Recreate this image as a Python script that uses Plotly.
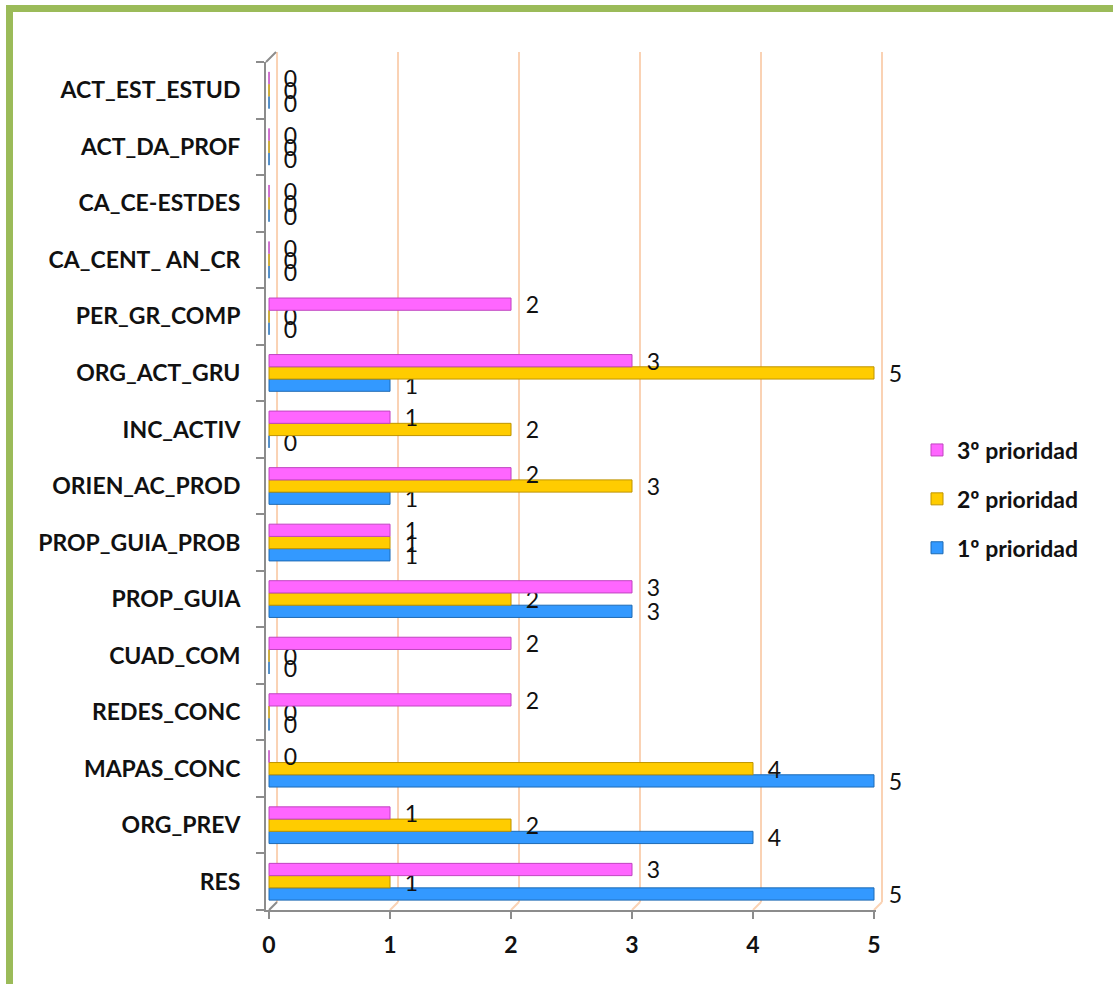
import plotly.graph_objects as go

# Activities, listed from the bottom of the chart to the top
categories = [
    "RES", "ORG_PREV", "MAPAS_CONC", "REDES_CONC", "CUAD_COM", "PROP_GUIA",
    "PROP_GUIA_PROB", "ORIEN_AC_PROD", "INC_ACTIV", "ORG_ACT_GRU",
    "PER_GR_COMP", "CA_CENT_ AN_CR", "CA_CE-ESTDES", "ACT_DA_PROF",
    "ACT_EST_ESTUD",
]
prioridad_1 = [5, 4, 5, 0, 0, 3, 1, 1, 0, 1, 0, 0, 0, 0, 0]
prioridad_2 = [1, 2, 4, 0, 0, 2, 1, 3, 2, 5, 0, 0, 0, 0, 0]
prioridad_3 = [3, 1, 0, 2, 2, 3, 1, 2, 1, 3, 2, 0, 0, 0, 0]
series_names = ["1º prioridad", "2º prioridad", "3º prioridad"]
x_ticks = [0, 1, 2, 3, 4, 5]

fill_colors = ["#3399FF", "#FFCC00", "#FF66FF"]
edge_colors = ["#1E6BB5", "#BF9400", "#C045C0"]

# Canvas and plot-area geometry (pixels)
W, H = 1113, 984
L, R, T, B = 266, 237, 62, 74
PW, PH = W - L - R, H - T - B
X_RANGE = [-0.025, 5.0165]


def px_x(v):
    return L + (v - X_RANGE[0]) / (X_RANGE[1] - X_RANGE[0]) * PW


def paper_x(px):
    return (px - L) / PW


def paper_y(py):
    return (H - B - py) / PH


fig = go.Figure()
for i, (name, vals, fc, ec) in enumerate(zip(series_names,
                                             [prioridad_1, prioridad_2, prioridad_3],
                                             fill_colors, edge_colors)):
    fig.add_trace(go.Bar(
        y=categories, x=vals, name=name, orientation="h",
        legendgroup=name, legendrank=len(series_names) - i,
        marker=dict(color=fc, line=dict(color=ec, width=1)),
        texttemplate="\u00a0\u00a0%{x}", textposition="outside",
        textfont=dict(family="Lato", size=23, color="#111111"),
        constraintext="none", cliponaxis=False,
        hoverinfo="skip",
    ))

shapes = []
GRID = "#FAD2B4"
AXIS = "#8C8C8C"
DEPTH_X, DEPTH_Y = 8, 8
for v in x_ticks:
    gx = px_x(v) + DEPTH_X
    # back-wall gridline
    shapes.append(dict(type="line", xref="paper", yref="paper",
                       x0=paper_x(gx), x1=paper_x(gx),
                       y0=paper_y(H - B - DEPTH_Y), y1=paper_y(T - 10),
                       line=dict(color=GRID, width=2), layer="below"))
    # floor segment running back to the axis
    shapes.append(dict(type="line", xref="paper", yref="paper",
                       x0=paper_x(px_x(v)), x1=paper_x(gx),
                       y0=paper_y(H - B), y1=paper_y(H - B - DEPTH_Y),
                       line=dict(color=AXIS if v == 0 else GRID, width=2),
                       layer="below"))

# top of the vertical axis, receding into depth
shapes.append(dict(type="line", xref="paper", yref="paper",
                   x0=0, x1=paper_x(L + 10), y0=1, y1=paper_y(T - 10),
                   line=dict(color=AXIS, width=2)))

# outer green frame
shapes.append(dict(type="rect", xref="paper", yref="paper",
                   x0=paper_x(9.5), x1=paper_x(W + 40),
                   y0=paper_y(H + 40), y1=paper_y(8.5),
                   line=dict(color="#9BBB59", width=7), layer="above"))

fig.update_layout(
    width=W, height=H,
    margin=dict(l=L, r=R, t=T, b=B, autoexpand=False),
    paper_bgcolor="white", plot_bgcolor="white",
    barmode="group", bargap=0.35, bargroupgap=0,
    shapes=shapes,
    showlegend=True,
    legend=dict(
        x=paper_x(917), xanchor="left",
        y=paper_y(499), yanchor="middle",
        traceorder="grouped", tracegroupgap=16,
        font=dict(family="Lato", size=23, color="#111111", weight="bold"),
        bgcolor="rgba(0,0,0,0)",
    ),
    xaxis=dict(
        range=X_RANGE, tickvals=x_ticks, showgrid=False, zeroline=False,
        showline=True, linecolor=AXIS, linewidth=2,
        ticks="outside", ticklen=7, tickcolor=AXIS, tickwidth=2,
        ticklabelstandoff=6,
        tickfont=dict(family="Lato", size=23, color="#111111", weight="bold"),
        fixedrange=True,
    ),
    yaxis=dict(
        type="category", categoryorder="array", categoryarray=categories,
        showgrid=False, zeroline=False,
        showline=True, linecolor=AXIS, linewidth=2,
        ticks="outside", ticklen=8, tickcolor=AXIS, tickwidth=2,
        tickson="boundaries", ticklabelstandoff=19,
        tickfont=dict(family="Lato", size=23, color="#111111", weight="bold"),
        fixedrange=True,
    ),
)

fig.write_html("out.html")
